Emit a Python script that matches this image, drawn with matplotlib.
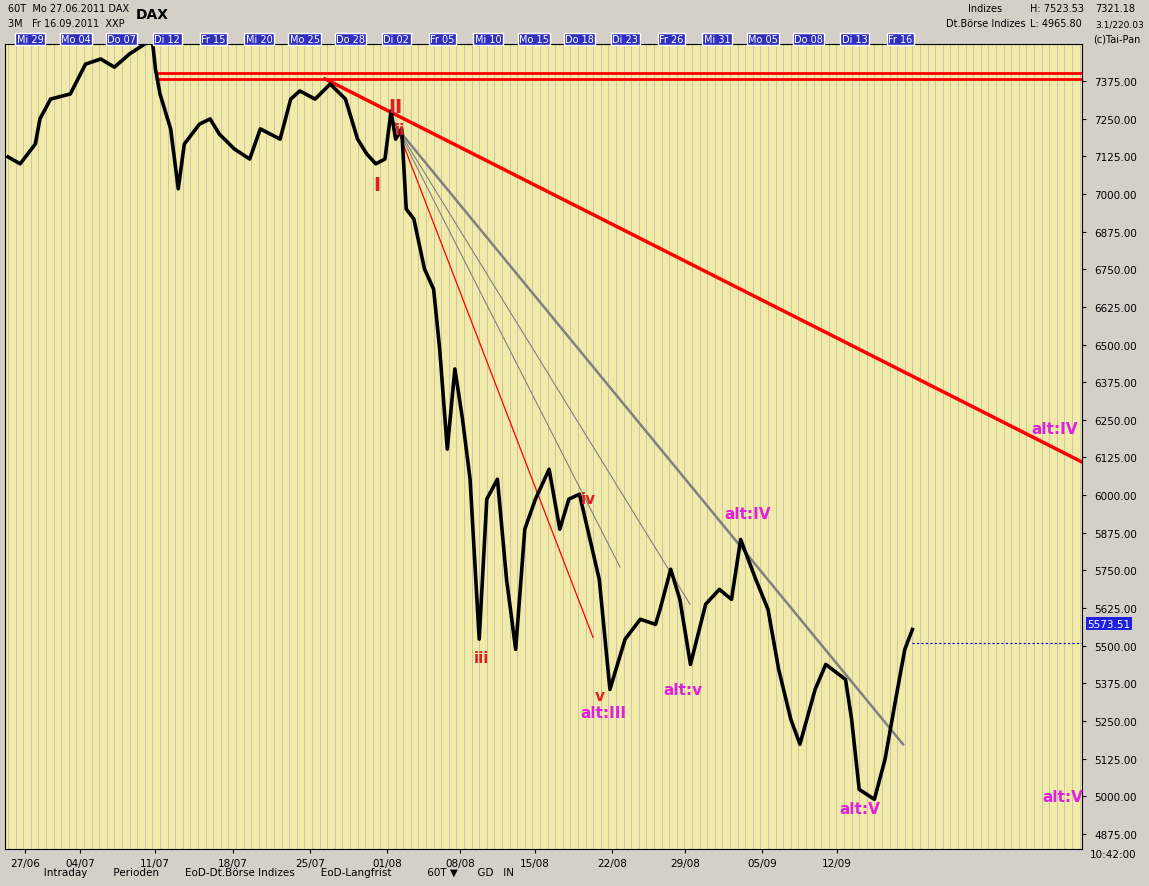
import matplotlib.pyplot as plt
import numpy as np

# DAX 60-minute chart (day index from Mo 27.06.2011)
days = [0.0, 0.8, 1.8, 2.1, 2.8, 4.1, 5.1, 6.1, 7.0, 8.0, 9.0, 9.5, 9.7, 10.0, 10.7, 11.2,
        11.6, 12.6, 13.3, 13.9, 14.9, 15.9, 16.6, 17.9, 18.6, 19.2, 20.2, 21.2, 22.2, 23.0,
        23.6, 24.2, 24.8, 25.2, 25.5, 25.9, 26.2, 26.7, 27.4, 28.0, 28.4, 28.9, 29.4, 29.9,
        30.4, 31.0, 31.5, 32.2, 32.8, 33.4, 34.0, 34.7, 35.6, 36.3, 36.9, 37.6, 38.9, 39.6,
        40.6, 41.6, 42.6, 42.9, 43.6, 44.2, 44.9, 45.9, 46.8, 47.6, 48.2, 49.2, 50.0, 50.7,
        51.5, 52.1, 53.1, 53.8, 55.1, 55.5, 56.0, 57.0, 57.7, 58.4, 59.0, 59.5]
price = [7123, 7100, 7166, 7249, 7315, 7332, 7431, 7448, 7421, 7465, 7498, 7508, 7415, 7332,
         7216, 7017, 7166, 7232, 7249, 7199, 7149, 7116, 7216, 7182, 7315, 7342, 7315, 7365,
         7315, 7182, 7133, 7100, 7116, 7275, 7182, 7216, 6950, 6917, 6751, 6684, 6485, 6153,
         6419, 6253, 6053, 5522, 5987, 6053, 5720, 5488, 5887, 5987, 6086, 5887, 5987, 6003,
         5720, 5355, 5522, 5588, 5571, 5621, 5754, 5654, 5438, 5638, 5687, 5654, 5853, 5720,
         5621, 5422, 5256, 5173, 5355, 5438, 5388, 5256, 5023, 4990, 5123, 5322, 5488, 5554,
         5604, 5637][:84]

week_labels = ["27/06", "04/07", "11/07", "18/07", "25/07", "01/08", "08/08", "15/08",
               "22/08", "29/08", "05/09", "12/09"]
top_labels = ["Mi 29", "Mo 04", "Do 07", "Di 12", "Fr 15", "Mi 20", "Mo 25", "Do 28", "Di 02",
              "Fr 05", "Mi 10", "Mo 15", "Do 18", "Di 23", "Fr 26", "Mi 31", "Mo 05", "Do 08",
              "Di 13", "Fr 16"]
price_ticks = np.arange(4875, 7376, 125)
last_price = 5573.51

bg = "#F1EBA9"
fig = plt.figure(figsize=(11.49, 8.87), dpi=100, facecolor="#D4D0C8")
ax = fig.add_axes([5 / 1149, 1 - 850 / 887, 1077 / 1149, 805 / 887], facecolor=bg)

def px_to_day(x):
    return (x - 8) / 15.2

x0, x1 = px_to_day(5), px_to_day(1082)
ax.set_xlim(x0, x1)
ylo = 7375 - (850 - 82) / 0.3012
yhi = 7375 + (82 - 45) / 0.3012
ax.set_ylim(ylo, yhi)

for d in np.arange(0, 71, 0.5):
    ax.axvline(d, color="#C4C0A8", lw=0.6, zorder=0)

ax.plot(days[:len(price)], price, color="black", lw=2.6, zorder=3)

# horizontal resistance
ax.plot([px_to_day(158), x1], [7400, 7400], color="red", lw=2, zorder=2)
ax.plot([px_to_day(158), x1], [7382, 7382], color="red", lw=2, zorder=2)
# trend lines
ax.plot([px_to_day(325), px_to_day(1082)], [7382, 6110], color="red", lw=2.5, zorder=2)
ax.plot([px_to_day(395), px_to_day(593)], [7236, 5528], color="red", lw=0.9, zorder=2)
ax.plot([px_to_day(397), px_to_day(903)], [7219, 5173], color="gray", lw=1.8, zorder=2)
ax.plot([px_to_day(397), px_to_day(620)], [7219, 5761], color="gray", lw=0.8, zorder=2)
ax.plot([px_to_day(397), px_to_day(690)], [7219, 5638], color="gray", lw=0.8, zorder=2)

red_lab = [("I", 377, 7030, 14), ("II", 395, 7290, 14), ("ii", 400, 7215, 11),
           ("iii", 481, 5460, 11), ("iv", 588, 5990, 11), ("v", 600, 5335, 11)]
for t, x, y, s in red_lab:
    ax.text(px_to_day(x), y, t, color="#E02020", fontsize=s, fontweight="bold", ha="center", va="center")
mag_lab = [("alt:III", 603, 5280), ("alt:v", 683, 5355), ("alt:IV", 748, 5940),
           ("alt:V", 860, 4960), ("alt:IV", 1055, 6220), ("alt:V", 1063, 5000)]
for t, x, y in mag_lab:
    ax.text(px_to_day(x), y, t, color="#E020E0", fontsize=11, fontweight="bold", ha="center", va="center")

ax.plot([px_to_day(912), x1], [5510, 5510], color="blue", lw=0.8, ls=(0, (2, 2)))

ax.yaxis.tick_right()
ax.set_yticks(price_ticks)
ax.set_yticklabels([f"{v:.2f}" for v in price_ticks], fontsize=7.5)
ax.tick_params(axis="y", length=3, pad=6)
ax.set_xticks([px_to_day(p) for p in [25, 80, 155, 233, 310, 387, 460, 535, 612, 685, 762, 837]])
ax.set_xticklabels(week_labels, fontsize=7.5)
ax.tick_params(axis="x", length=3)
ax.text(1.005, (last_price - ylo) / (yhi - ylo), f"{last_price:.2f}", transform=ax.transAxes,
        fontsize=7.5, color="white", va="center", bbox=dict(fc="#2020E0", ec="none", pad=1))

for i, t in enumerate(top_labels):
    fig.text((30 + i * 45.8) / 1149, 1 - 40 / 887, t, fontsize=7, color="white", ha="center",
             va="center", bbox=dict(fc="#3030C0", ec="white", pad=1))

fig.text(8 / 1149, 1 - 12 / 887, "60T  Mo 27.06.2011 DAX", fontsize=7)
fig.text(8 / 1149, 1 - 27 / 887, "3M   Fr 16.09.2011  XXP", fontsize=7)
fig.text(136 / 1149, 1 - 19 / 887, "DAX", fontsize=10, fontweight="bold")
fig.text(968 / 1149, 1 - 12 / 887, "Indizes", fontsize=7)
fig.text(946 / 1149, 1 - 27 / 887, "Dt.Börse Indizes", fontsize=7)
fig.text(1030 / 1149, 1 - 12 / 887, "H: 7523.53", fontsize=7)
fig.text(1030 / 1149, 1 - 27 / 887, "L: 4965.80", fontsize=7)
fig.text(1095 / 1149, 1 - 12 / 887, "7321.18", fontsize=7)
fig.text(1095 / 1149, 1 - 27 / 887, "3.1/220.03", fontsize=6.5)
fig.text(1093 / 1149, 1 - 43 / 887, "(c)Tai-Pan", fontsize=7)
fig.text(1090 / 1149, 1 - 858 / 887, "10:42:00", fontsize=7.5)
fig.text(8 / 1149, 1 - 876 / 887,
         "           Intraday        Perioden        EoD-Dt.Börse Indizes        EoD-Langfrist"
         "           60T ▼      GD   IN", fontsize=7.5)

plt.savefig("out.png", dpi=100, facecolor=fig.get_facecolor())
